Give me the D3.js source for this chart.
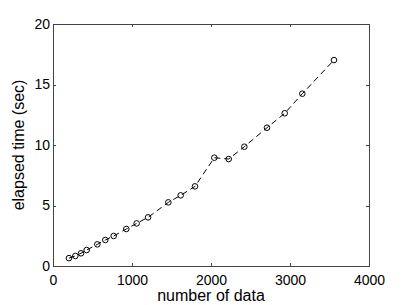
<!DOCTYPE html>
<html>
<head>
<meta charset="utf-8">
<script src="https://cdn.jsdelivr.net/npm/d3@7"></script>
<style>
  body { margin: 0; background: #fff; }
  text { font-family: "Liberation Sans", Arial, sans-serif; fill: #000; }
</style>
</head>
<body>
<div id="chart"></div>
<script>
/* data */
var nData   = [202, 283, 354, 426, 561, 662, 768, 928, 1059, 1203, 1460, 1616, 1797, 2042, 2224, 2422, 2709, 2933, 3156, 3557]
var elapsed = [0.65, 0.83, 1.05, 1.32, 1.79, 2.15, 2.48, 3.06, 3.52, 4.02, 5.26, 5.84, 6.58, 8.95, 8.84, 9.86, 11.43, 12.62, 14.24, 17.02]
var xTicks = [0, 1000, 2000, 3000, 4000]
var yTicks = [0, 5, 10, 15, 20]

/* layout */
var W = 407, H = 305
var box = { left: 53, right: 369, top: 24, bottom: 266 }
var axisColor = "#444"

var svg = d3.select("#chart").append("svg")
  .attr("width", W)
  .attr("height", H)

var x = d3.scaleLinear().domain([0, 4000]).range([box.left, box.right])
var y = d3.scaleLinear().domain([0, 20]).range([box.bottom, box.top])

/* axes, ticks pointing inward like matlab */
function styleAxis(g) {
  g.selectAll("path, line").attr("stroke", axisColor).attr("shape-rendering", "crispEdges")
  g.selectAll("text").style("font-size", "14px").attr("fill", "#000")
}
svg.append("g")
  .attr("transform", "translate(0," + box.bottom + ")")
  .call(d3.axisBottom(x).tickValues(xTicks).tickFormat(d3.format("d")).tickSizeInner(-3).tickSizeOuter(0).tickPadding(9))
  .call(styleAxis)
svg.append("g")
  .attr("transform", "translate(0," + box.top + ")")
  .call(d3.axisTop(x).tickValues(xTicks).tickFormat("").tickSizeInner(-3).tickSizeOuter(0))
  .call(styleAxis)
svg.append("g")
  .attr("transform", "translate(" + box.left + ",0)")
  .call(d3.axisLeft(y).tickValues(yTicks).tickFormat(d3.format("d")).tickSizeInner(-3).tickSizeOuter(0).tickPadding(3))
  .call(styleAxis)
svg.append("g")
  .attr("transform", "translate(" + box.right + ",0)")
  .call(d3.axisRight(y).tickValues(yTicks).tickFormat("").tickSizeInner(-3).tickSizeOuter(0))
  .call(styleAxis)

/* axis labels */
svg.append("text")
  .attr("x", (box.left + box.right) / 2)
  .attr("y", 301)
  .attr("text-anchor", "middle")
  .style("font-size", "16px")
  .text("number of data")
svg.append("text")
  .attr("transform", "translate(24," + (box.top + box.bottom) / 2 + ") rotate(-90)")
  .attr("text-anchor", "middle")
  .style("font-size", "16px")
  .text("elapsed time (sec)")

/* dashed line with circle markers */
var pts = nData.map(function(d, i) { return [d, elapsed[i]] })
var line = d3.line()
  .x(function(d) { return x(d[0]) })
  .y(function(d) { return y(d[1]) })
svg.append("path")
  .attr("d", line(pts))
  .attr("fill", "none")
  .attr("stroke", "#000")
  .attr("stroke-width", 1)
  .attr("stroke-dasharray", "6,4")
svg.selectAll("circle.mk")
  .data(pts)
  .enter().append("circle")
  .attr("class", "mk")
  .attr("cx", function(d) { return x(d[0]) })
  .attr("cy", function(d) { return y(d[1]) })
  .attr("r", 2.8)
  .attr("fill", "none")
  .attr("stroke", "#000")
  .attr("stroke-width", 1)
</script>
</body>
</html>
